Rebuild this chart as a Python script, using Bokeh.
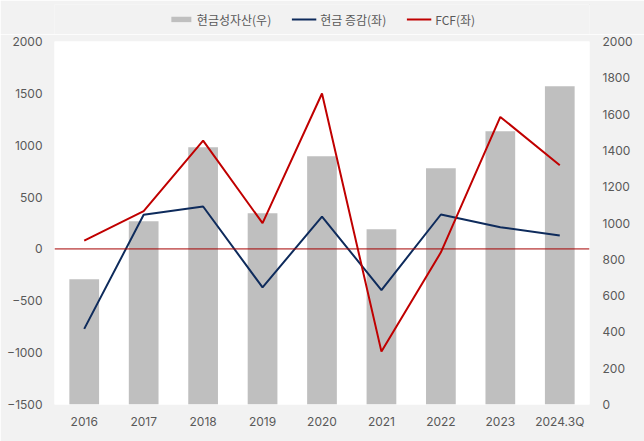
from bokeh.plotting import figure
from bokeh.layouts import column
from bokeh.models import (Range1d, LinearAxis, FactorRange, Span, Legend, LegendItem,
                          FixedTicker, ColumnDataSource)
from bokeh.embed import file_html
from bokeh.resources import INLINE

categories = ["2016", "2017", "2018", "2019", "2020", "2021", "2022", "2023", "2024.3Q"]
cash_assets = [690, 1010, 1418, 1054, 1368, 966, 1302, 1506, 1754]   # right axis
cash_change = [-771, 329, 409, -371, 312, -397, 332, 209, 129]     # left axis
fcf = [80, 364, 1044, 248, 1499, -990, -33, 1273, 806]             # left axis
series_names = ["현금성자산(우)", "현금 증감(좌)", "FCF(좌)"]

left_ticks = [-1500, -1000, -500, 0, 500, 1000, 1500, 2000]
right_ticks = [0, 200, 400, 600, 800, 1000, 1200, 1400, 1600, 1800, 2000]

BG = "#f2f2f2"
BAR_C = "#bfbfbf"
NAVY = "#0e2b5c"
RED = "#c00000"

src = ColumnDataSource(dict(cat=categories, assets=cash_assets, chg=cash_change, fcf=fcf))

p = figure(width=644, height=407, x_range=FactorRange(*categories, range_padding=0),
           y_range=Range1d(-1500, 2000), output_backend="svg", toolbar_location=None,
           min_border_left=54, min_border_right=55, min_border_top=7, min_border_bottom=37)
p.extra_y_ranges = {"right": Range1d(0, 2000)}

p.background_fill_color = "white"
p.border_fill_color = BG
p.outline_line_color = None
p.xgrid.visible = False
p.ygrid.visible = False

bars = p.vbar(x="cat", top="assets", bottom=0, width=0.5, source=src, y_range_name="right",
              fill_color=BAR_C, line_color=None)
zero = Span(location=0, dimension="width", line_color="#a50000", line_width=1)
p.add_layout(zero)
l1 = p.line(x="cat", y="chg", source=src, line_color=NAVY, line_width=2)
l2 = p.line(x="cat", y="fcf", source=src, line_color=RED, line_width=2)

tick_font = "Inter"
tick_color = "#595959"


def style_axis(a, standoff):
    a.axis_line_color = None
    a.major_tick_line_color = None
    a.minor_tick_line_color = None
    a.major_tick_out = 0
    a.major_tick_in = 0
    a.minor_tick_out = 0
    a.minor_tick_in = 0
    a.major_label_text_font = tick_font
    a.major_label_text_font_size = "12px"
    a.major_label_text_color = tick_color
    a.major_label_standoff = standoff


ax = p.yaxis[0]
ax.ticker = FixedTicker(ticks=left_ticks)
style_axis(ax, 12)

rax = LinearAxis(y_range_name="right", ticker=FixedTicker(ticks=right_ticks))
style_axis(rax, 13)
p.add_layout(rax, "right")

style_axis(p.xaxis[0], 9)

# legend strip above the chart
lg = figure(width=644, height=34, x_range=Range1d(0, 1), y_range=Range1d(0, 1),
            output_backend="svg", toolbar_location=None, x_axis_type=None, y_axis_type=None,
            min_border_left=0, min_border_right=0, min_border_top=4, min_border_bottom=0)
lg.background_fill_color = BG
lg.border_fill_color = BG
lg.outline_line_color = None
lg.xgrid.visible = False
lg.ygrid.visible = False
dummy = ColumnDataSource(dict(x=[5, 6], y=[5, 5], top=[5, 5]))
d0 = lg.vbar(x="x", top="top", bottom=4, width=0.1, source=dummy, fill_color=BAR_C, line_color=None)
d1 = lg.line(x="x", y="y", source=dummy, line_color=NAVY, line_width=2)
d2 = lg.line(x="x", y="y", source=dummy, line_color=RED, line_width=2)

legend = Legend(items=[LegendItem(label=series_names[0], renderers=[d0]),
                       LegendItem(label=series_names[1], renderers=[d1]),
                       LegendItem(label=series_names[2], renderers=[d2])],
                orientation="horizontal", location="center",
                background_fill_alpha=0, border_line_color=None,
                label_text_font="Noto Sans CJK KR", label_text_font_size="12px",
                label_text_color="#595959", glyph_width=25, glyph_height=7,
                label_standoff=4, spacing=20, margin=0, padding=0)
lg.add_layout(legend, "center")

layout = column(lg, p, spacing=0)
open("out.html", "w").write(file_html(layout, INLINE))
